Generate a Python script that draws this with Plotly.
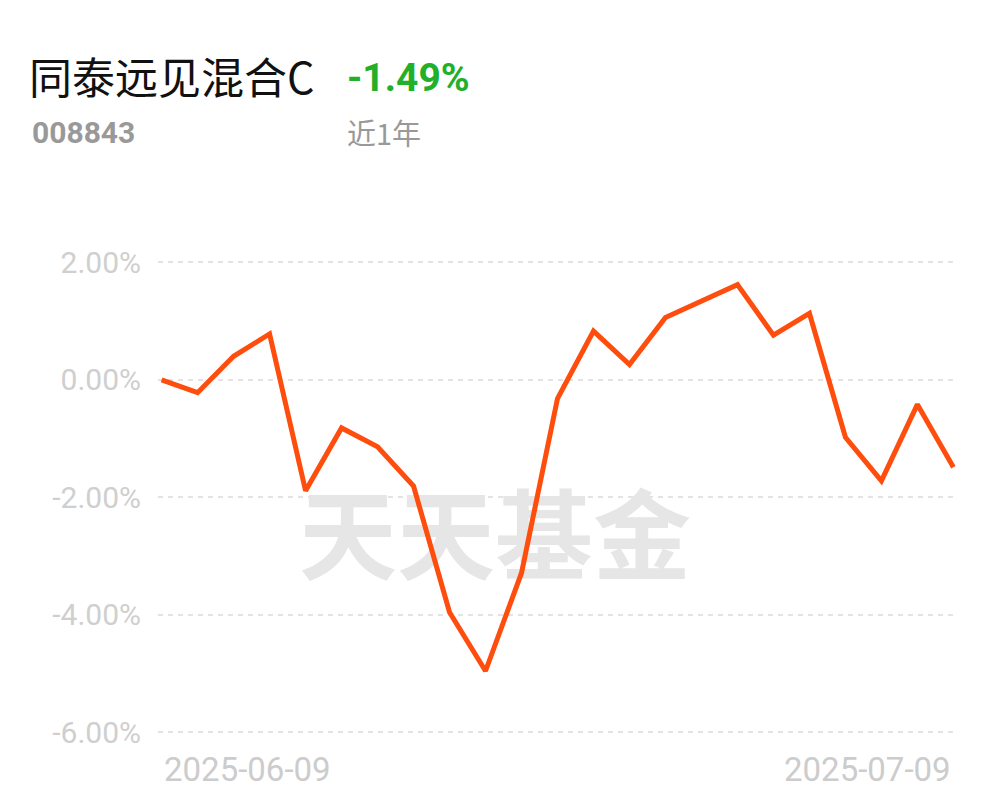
import plotly.graph_objects as go

# ---------------- data ----------------
fund_name = "同泰远见混合C"
fund_code = "008843"
period_label = "近1年"
period_return = "-1.49%"
watermark = "天天基金"

dates = [
    "2025-06-09", "2025-06-10", "2025-06-11", "2025-06-12", "2025-06-13",
    "2025-06-16", "2025-06-17", "2025-06-18", "2025-06-19", "2025-06-20",
    "2025-06-23", "2025-06-24", "2025-06-25", "2025-06-26", "2025-06-27",
    "2025-06-30", "2025-07-01", "2025-07-02", "2025-07-03", "2025-07-04",
    "2025-07-07", "2025-07-08", "2025-07-09",
]
returns = [
    0.00, -0.22, 0.40, 0.78, -1.89,
    -0.82, -1.14, -1.81, -3.96, -4.96,
    -3.29, -0.32, 0.83, 0.26, 1.06,
    1.34, 1.62, 0.76, 1.13, -0.98,
    -1.72, -0.42, -1.49,
]
y_tickvals = [2, 0, -2, -4, -6]
y_ticktext = ["2.00%", "0.00%", "-2.00%", "-4.00%", "-6.00%"]
x_label_dates = [dates[0], dates[-1]]

# ---------------- layout helpers ----------------
W, H = 997, 802
OFF = 8  # page body margin
L, R, T, B = 150, 48, 225, 75
PW = W - L - R
PH = H - T - B


def px(x):
    return (x - OFF - L) / PW


def py(y):
    return (H - B - (y - OFF)) / PH


fig = go.Figure()

# watermark (on an invisible base subplot so the line draws above it)
fig.add_trace(go.Scatter(
    x=[px(495)], y=[py(547)], mode="text", text=[watermark],
    textfont=dict(family="Noto Sans CJK SC", size=98, color="#e6e6e6", weight="bold"),
    xaxis="x", yaxis="y", hoverinfo="skip", showlegend=False,
))

# return line
fig.add_trace(go.Scatter(
    x=dates, y=returns, mode="lines",
    line=dict(color="#ff4d0d", width=5),
    xaxis="x2", yaxis="y2", showlegend=False,
))

annotations = [
    dict(text=fund_name, xref="paper", yref="paper", x=px(27), y=py(75),
         xanchor="left", yanchor="middle", showarrow=False,
         font=dict(family="Noto Sans CJK SC", size=43, color="#111111")),
    dict(text="<b>" + period_return + "</b>", xref="paper", yref="paper", x=px(345), y=py(78),
         xanchor="left", yanchor="middle", showarrow=False,
         font=dict(family="Roboto", size=39, color="#22b02a")),
    dict(text="<b>" + fund_code + "</b>", xref="paper", yref="paper", x=px(30), y=py(133),
         xanchor="left", yanchor="middle", showarrow=False,
         font=dict(family="Roboto", size=30, color="#999999")),
    dict(text=period_label, xref="paper", yref="paper", x=px(345), y=py(132),
         xanchor="left", yanchor="middle", showarrow=False,
         font=dict(family="Noto Sans CJK SC", size=29, color="#999999")),
    dict(text=x_label_dates[0], xref="x2", yref="paper", x=x_label_dates[0], y=py(769),
         xanchor="left", yanchor="middle", showarrow=False,
         font=dict(family="Roboto", size=33, color="#cccccc")),
    dict(text=x_label_dates[1], xref="x2", yref="paper", x=x_label_dates[1], y=py(769),
         xanchor="right", yanchor="middle", showarrow=False,
         font=dict(family="Roboto", size=33, color="#cccccc")),
]

fig.update_layout(
    width=W, height=H,
    margin=dict(l=L, r=R, t=T, b=B),
    paper_bgcolor="white", plot_bgcolor="white",
    showlegend=False,
    xaxis=dict(range=[0, 1], visible=False, fixedrange=True),
    yaxis=dict(range=[0, 1], visible=False, fixedrange=True),
    xaxis2=dict(type="category", overlaying="x", anchor="y2", range=[-0.1, 22.1],
                showgrid=False, showticklabels=False, zeroline=False, showline=False,
                ticks=""),
    yaxis2=dict(overlaying="y", anchor="x2", side="left", range=[-6.05, 2.5],
                tickvals=y_tickvals, ticktext=y_ticktext,
                tickfont=dict(family="Roboto", size=30, color="#cfcfcf"),
                ticklabelstandoff=16, ticks="",
                showgrid=True, gridcolor="#e3e3e3", gridwidth=1.5, griddash="5px,5px",
                zeroline=False, showline=False),
    annotations=annotations,
)

fig.write_html("out.html")
